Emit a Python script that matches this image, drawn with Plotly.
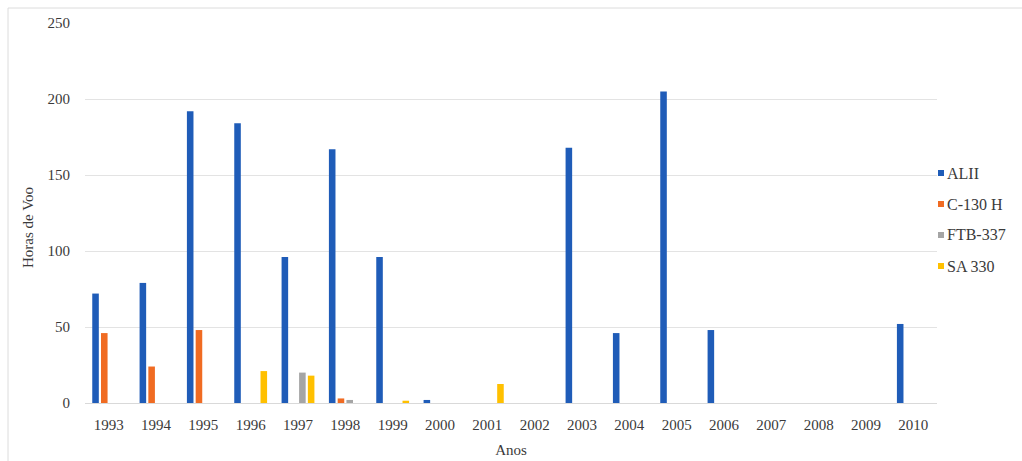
import plotly.graph_objects as go

years = ["1993", "1994", "1995", "1996", "1997", "1998", "1999", "2000", "2001",
         "2002", "2003", "2004", "2005", "2006", "2007", "2008", "2009", "2010"]
alii = [72, 79, 192, 184, 96, 167, 96, 2, 0, 0, 168, 46, 205, 48, 0, 0, 0, 52]
c130h = [46, 24, 48, 0, 0, 3, 0, 0, 0, 0, 0, 0, 0, 0, 0, 0, 0, 0]
ftb337 = [0, 0, 0, 0, 20, 2, 0, 0, 0, 0, 0, 0, 0, 0, 0, 0, 0, 0]
sa330 = [0, 0, 0, 21, 18, 0, 1.5, 0, 12.5, 0, 0, 0, 0, 0, 0, 0, 0, 0]

series = [("ALII", alii, "#1f5cb8"), ("C-130 H", c130h, "#f06b22"),
          ("FTB-337", ftb337, "#a5a5a5"), ("SA 330", sa330, "#ffc000")]

FONT = "Liberation Serif"
TXT = "#3a3a3a"
L, R, T, B = 85, 85, 23, 58
W, H = 1022, 461
PW, PH = W - L - R, H - T - B


def px_x(p):
    return (p - L) / PW


def px_y(p):
    return (H - B - p) / PH


fig = go.Figure()
for name, vals, col in series:
    fig.add_trace(go.Bar(x=years, y=vals, name=name, marker_color=col,
                         marker_line_width=0, showlegend=False))

shapes = [dict(type="rect", xref="paper", yref="paper",
               x0=px_x(8), x1=px_x(1032), y0=px_y(470), y1=px_y(8),
               line=dict(color="#dcdcdc", width=1), layer="below")]
annotations = [dict(text="Horas de Voo", xref="paper", yref="paper",
                    x=px_x(28), y=px_y(228), textangle=-90, showarrow=False,
                    xanchor="center", yanchor="middle",
                    font=dict(family=FONT, size=15, color=TXT))]

# legend entries (right side)
for i, (name, vals, col) in enumerate(series):
    cy = 173 + i * 31
    shapes.append(dict(type="rect", xref="paper", yref="paper",
                       x0=px_x(938), x1=px_x(944), y0=px_y(cy + 3), y1=px_y(cy - 3),
                       fillcolor=col, line=dict(width=0)))
    annotations.append(dict(text=name, xref="paper", yref="paper",
                            x=px_x(945), y=px_y(cy), xanchor="left", yanchor="middle",
                            showarrow=False,
                            font=dict(family=FONT, size=16, color=TXT)))

fig.update_layout(
    width=W, height=H,
    margin=dict(l=L, r=R, t=T, b=B, autoexpand=False),
    paper_bgcolor="white", plot_bgcolor="white",
    barmode="group", bargap=0.26, bargroupgap=0.25,
    showlegend=False,
    font=dict(family=FONT, size=15, color=TXT),
    xaxis=dict(showgrid=False, showline=True, linecolor="#d9d9d9", linewidth=1,
               ticks="", ticklabelstandoff=8,
               title=dict(text="Anos", standoff=12,
                          font=dict(family=FONT, size=15, color=TXT))),
    yaxis=dict(range=[0, 250], dtick=50, showgrid=True, gridcolor="#e3e3e3",
               zeroline=False, showline=False, ticks="", ticklabelstandoff=14),
    shapes=shapes,
    annotations=annotations,
)

fig.write_html("out.html")
